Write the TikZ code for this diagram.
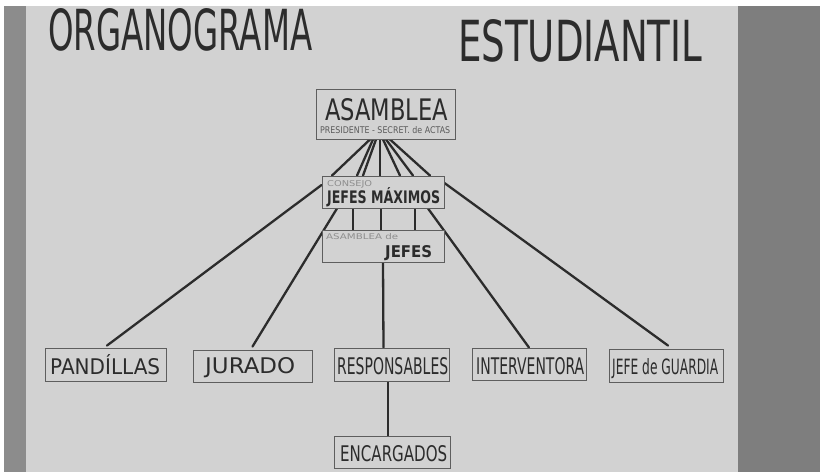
\documentclass[tikz,border=0pt]{standalone}
\usepackage{fontspec}
\setmainfont{DejaVu Sans}
\usepackage{graphicx}
\usetikzlibrary{calc}
\definecolor{paper}{HTML}{D2D2D2}
\definecolor{ink}{HTML}{2C2C2C}
\definecolor{frame}{HTML}{5E5E5E}
\definecolor{faint}{HTML}{8E8E8E}
\definecolor{mid}{HTML}{5A5A5A}
\definecolor{wall}{HTML}{7E7E7E}
\definecolor{wallL}{HTML}{8C8C8C}
\pgfdeclarelayer{paperlayer}
\pgfdeclarelayer{wirelayer}
\pgfsetlayers{paperlayer,wirelayer,main}
\newcommand\fitt[3]{\resizebox{#1pt}{#2pt}{#3}}
\begin{document}
\begin{tikzpicture}[x=1pt,y=-1pt,
  box/.style={draw=frame, line width=0.9pt, fill=paper, rectangle, inner sep=0pt},
  txt/.style={anchor=base west, inner sep=0pt, text=ink},
  wire/.style={draw=ink, line width=2.3pt, line cap=round}]
\useasboundingbox (0,0) rectangle (820,472);
\begin{pgfonlayer}{paperlayer}
\fill[white] (0,0) rectangle (820,472);
\fill[wallL] (4,6) rectangle (26,472);
\fill[paper] (26,6) rectangle (738,472);
\fill[wall] (738,6) rectangle (820,472);
\end{pgfonlayer}
% title
\node[txt] (t1) at (48,50) {\fitt{264}{42}{ORGANOGRAMA}};
\node[txt] (t2) at (458,61) {\fitt{244}{42}{ESTUDIANTIL}};
% boxes
\node[box, minimum width=139pt, minimum height=50pt] (asm) at (385.5,114) {};
\node[box, minimum width=122pt, minimum height=32pt] (con) at (383,192) {};
\node[box, minimum width=122pt, minimum height=32pt] (aj) at (383,246) {};
\node[box, minimum width=121pt, minimum height=33pt] (pan) at (105.5,364.5) {};
\node[box, minimum width=119pt, minimum height=32pt] (jur) at (252.5,366) {};
\node[box, minimum width=115pt, minimum height=33pt] (res) at (391.5,364.5) {};
\node[box, minimum width=114pt, minimum height=32pt] (int) at (529,364) {};
\node[box, minimum width=114pt, minimum height=33pt] (jef) at (666,365.5) {};
\node[box, minimum width=116pt, minimum height=32pt] (enc) at (392,452) {};
% texts
\node[txt] (tasm) at (325,120) {\fitt{123}{22}{ASAMBLEA}};
\node[txt, text=mid] (tsub) at (320,133) {\fitt{130}{7}{PRESIDENTE - SECRET. de ACTAS}};
\node[txt, text=faint] (tcon) at (327,186) {\fitt{45}{6}{CONSEJO}};
\node[txt] (tjm) at (327,203) {\fitt{113}{16}{\bfseries JEFES MÁXIMOS}};
\node[txt, text=faint] (taj) at (326,239) {\fitt{72}{6}{ASAMBLEA de}};
\node[txt] (tje) at (385,257) {\fitt{47}{12}{\bfseries JEFES}};
\node[txt] (tpan) at (50,374) {\fitt{110}{20}{PANDÍLLAS}};
\node[txt] (tjur) at (205,373) {\fitt{90}{16}{JURADO}};
\node[txt] (tres) at (337,374) {\fitt{111}{17}{RESPONSABLES}};
\node[txt] (tint) at (476,374) {\fitt{108}{17}{INTERVENTORA}};
\node[txt] (tjef) at (612,374) {\fitt{106}{16}{JEFE de GUARDIA}};
\node[txt] (tenc) at (340,461) {\fitt{107}{16}{ENCARGADOS}};
% connectors
\begin{pgfonlayer}{wirelayer}
\draw[wire] ([xshift=-15.5pt]asm.south) -- ([xshift=-51pt]con.north);
\draw[wire] ([xshift=-12.5pt]asm.south) -- ([xshift=-26pt]con.north);
\draw[wire] ([xshift=-9.5pt]asm.south) -- ([xshift=-20pt]con.north);
\draw[wire] ([xshift=-5.5pt]asm.south) -- ([xshift=-3pt]con.north);
\draw[wire] ([xshift=-2.5pt]asm.south) -- ([xshift=17pt]con.north);
\draw[wire] ([xshift=0.5pt]asm.south) -- ([xshift=30pt]con.north);
\draw[wire] ([xshift=4.5pt]asm.south) -- ([xshift=47pt]con.north);
\draw[wire] ([yshift=7pt]con.west) -- ([xshift=1.5pt,yshift=2pt]pan.north);
\draw[wire] ([yshift=9pt]con.east) -- ([xshift=2pt,yshift=3pt]jef.north);
\draw[wire] ([xshift=-46pt]con.south) -- ([yshift=3pt]jur.north);
\draw[wire] ([xshift=45pt]con.south) -- (int.north);
\draw[wire] ([xshift=-30pt]con.south) -- ([xshift=-30pt]aj.north);
\draw[wire] ([xshift=-2pt]con.south) -- ([xshift=-2pt]aj.north);
\draw[wire] ([xshift=32pt]con.south) -- ([xshift=32pt]aj.north);
\draw[wire] (aj.south) -- ([xshift=-8pt]res.north);
\draw[wire] ([xshift=-3.5pt]res.south) -- ([xshift=-4pt]enc.north);
\end{pgfonlayer}
\end{tikzpicture}
\end{document}
